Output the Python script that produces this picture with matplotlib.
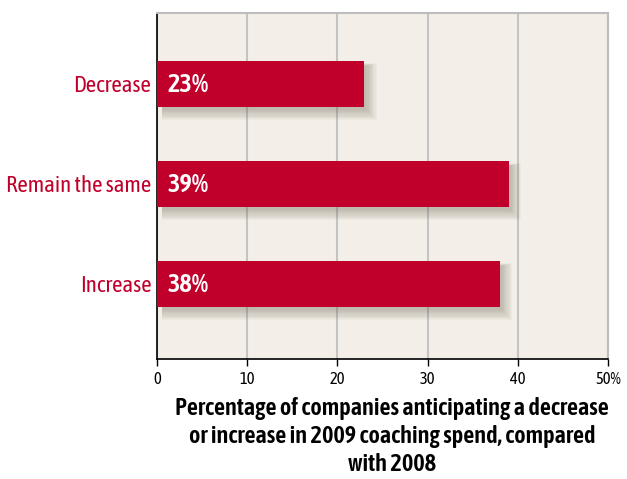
import matplotlib
matplotlib.use('Agg')
import matplotlib.pyplot as plt
from matplotlib import font_manager
from matplotlib.font_manager import FontProperties

categories = ['Increase', 'Remain the same', 'Decrease']
values = [38, 39, 23]
value_labels = ['38%', '39%', '23%']
ticks = [0, 10, 20, 30, 40, 50]
tick_labels = ['0', '10', '20', '30', '40', '50%']


def find_font(*files):
    paths = {f.fname.split('/')[-1]: f.fname for f in font_manager.fontManager.ttflist}
    for fn in files:
        if fn in paths:
            return paths[fn]
    return None


reg_path = find_font('AsapCondensed-Regular.ttf', 'BarlowCondensed-Regular.ttf', 'DejaVuSansCondensed.ttf')
bold_path = find_font('AsapCondensed-SemiBold.ttf', 'AsapCondensed-Bold.ttf', 'BarlowCondensed-SemiBold.ttf',
                      'DejaVuSansCondensed-Bold.ttf')


def fp(path, size):
    if path:
        return FontProperties(fname=path, size=size)
    return FontProperties(family='DejaVu Sans', size=size)


red = '#c0002a'
fig = plt.figure(figsize=(6.27, 4.79), dpi=100)
ax = fig.add_axes([157 / 627, 1 - 359 / 479, (608 - 157) / 627, (359 - 13) / 479])
ax.set_facecolor('#f3efe8')

y = list(range(len(categories)))
# soft blurred shadow under the bars
for k in range(10):
    off = 0.2 + 0.13 * k
    ax.barh([p - 0.04 - 0.004 * k for p in y], [v + off - 0.6 for v in values], height=0.44 + 0.014 * k,
            left=0.6, color='#6e6455', alpha=0.045, zorder=2, linewidth=0)
ax.barh(y, values, height=0.46, color=red, zorder=3, linewidth=0)
for p, lab in zip(y, value_labels):
    ax.text(1.2, p, lab, color='white', fontproperties=fp(bold_path, 19), va='center', ha='left', zorder=4)

ax.set_xlim(0, 50)
ax.set_ylim(-0.75, 2.71)
ax.set_xticks(ticks)
ax.set_xticklabels(tick_labels, fontproperties=fp(reg_path, 12))
ax.set_yticks(y)
ax.set_yticklabels(categories, fontproperties=fp(reg_path, 16.5), color=red)
ax.tick_params(axis='y', length=0, pad=4)
ax.tick_params(axis='x', length=5, width=1, color='black', pad=4)
ax.xaxis.grid(True, color='#c4c4c4', linewidth=1.5, zorder=1)
ax.set_axisbelow(True)
for s in ['top', 'right']:
    ax.spines[s].set_color('#bdbdbd')
    ax.spines[s].set_linewidth(1.5)
for s in ['left', 'bottom']:
    ax.spines[s].set_color('black')
    ax.spines[s].set_linewidth(1.2)

fig.text(392 / 627, 1 - 397 / 479,
         'Percentage of companies anticipating a decrease\nor increase in 2009 coaching spend, compared\nwith 2008',
         ha='center', va='top', fontproperties=fp(bold_path, 17.5), linespacing=1.27)

fig.savefig('out.png', dpi=100)
